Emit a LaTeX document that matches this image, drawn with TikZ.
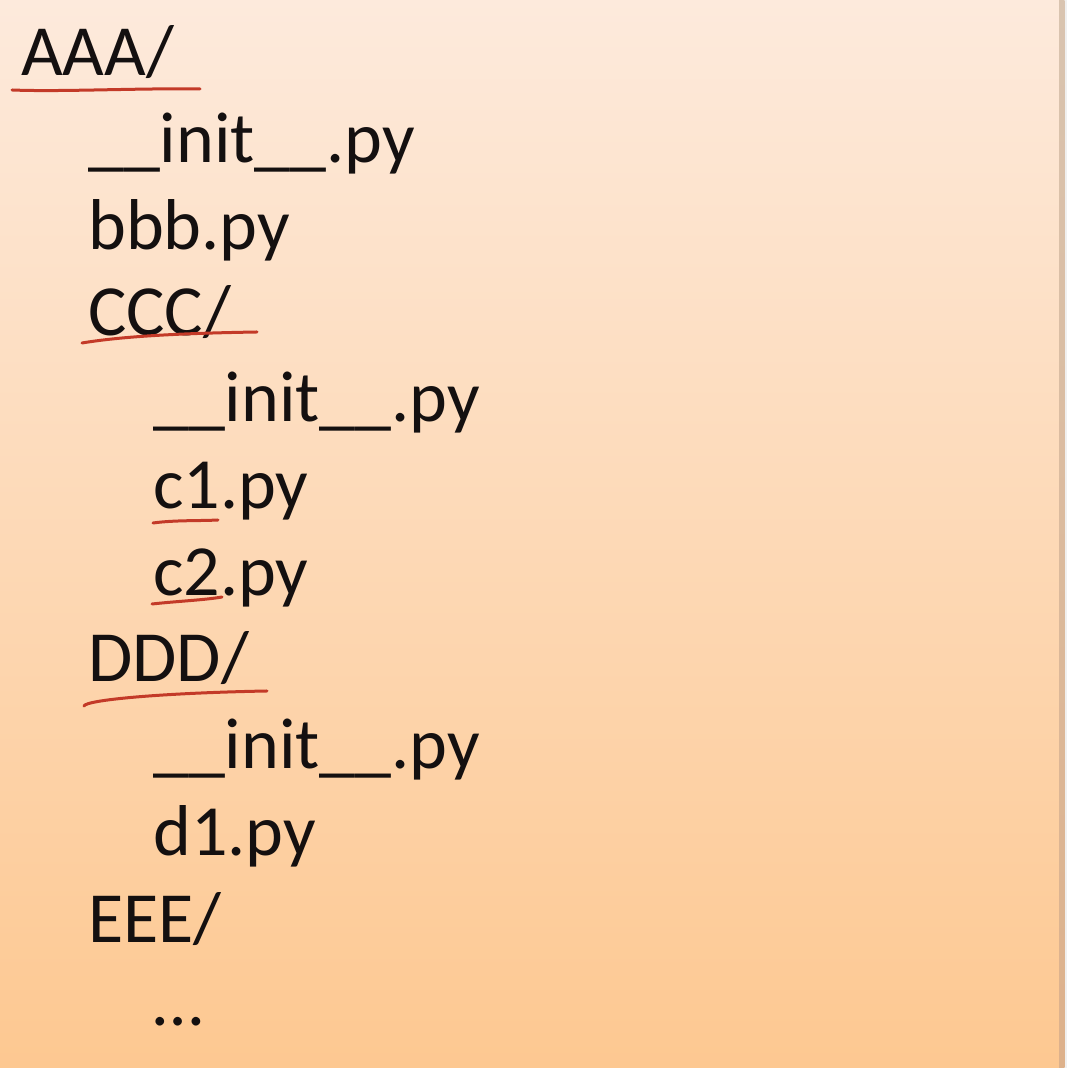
\documentclass[tikz,border=0pt]{standalone}
\usepackage{fontspec}
\setmainfont{Carlito}
\definecolor{sheettop}{HTML}{FDEADC}
\definecolor{sheetmid}{HTML}{FDDBBB}
\definecolor{sheetbot}{HTML}{FDC891}
\definecolor{edgetop}{HTML}{D9C4B0}
\definecolor{edgebot}{HTML}{DDB18B}
\definecolor{penred}{HTML}{C33A28}
\definecolor{ink}{HTML}{141010}
\begin{document}
\begin{tikzpicture}[x=1pt,y=1pt,
  entry/.style={anchor=base west, inner sep=0pt, text=ink,
                font=\fontsize{72}{86}\selectfont},
  penline/.style={draw=penred, line width=3pt, line cap=round, line join=round}]
\useasboundingbox (0,0) rectangle (1074,1068);
% page and slide background
\fill[white] (0,0) rectangle (1074,1068);
\shade[top color=sheettop, middle color=sheetmid, bottom color=sheetbot]
  (0,0) rectangle (1060,1068);
\shade[top color=edgetop, bottom color=edgebot] (1059,0) rectangle (1064.5,1068);
\fill[black!6] (1064.5,0) rectangle (1067,1068);

% directory tree
\node[entry] (aaa)   at (21, 992)   {AAA/};
\node[entry] (ainit) at (88, 905)   {\_\_init\_\_.py};
\node[entry] (bbb)   at (88, 818)   {bbb.py};
\node[entry] (ccc)   at (88, 732)   {CCC/};
\node[entry] (cinit) at (153, 646)  {\_\_init\_\_.py};
\node[entry] (cone)  at (153, 559)  {c1.py};
\node[entry] (ctwo)  at (153, 472)  {c2.py};
\node[entry] (ddd)   at (88, 386)   {DDD/};
\node[entry] (dinit) at (153, 299)  {\_\_init\_\_.py};
\node[entry] (done)  at (153, 212)  {d1.py};
\node[entry] (eee)   at (88, 125)   {EEE/};
\node[entry] (more)  at (153, 42)   {…};

% hand-drawn red underlines
\draw[penline] (12,978) .. controls (60,976) and (140,980) .. (200,979);
\draw[penline] (82,725) .. controls (130,733) and (200,735) .. (257,736);
\draw[penline] (153,545) .. controls (175,548) and (200,547) .. (218,548);
\draw[penline] (152,464) .. controls (180,467) and (205,468) .. (222,471);
\draw[penline] (84,362) .. controls (86,368) and (160,375) .. (267,377);
\end{tikzpicture}
\end{document}
